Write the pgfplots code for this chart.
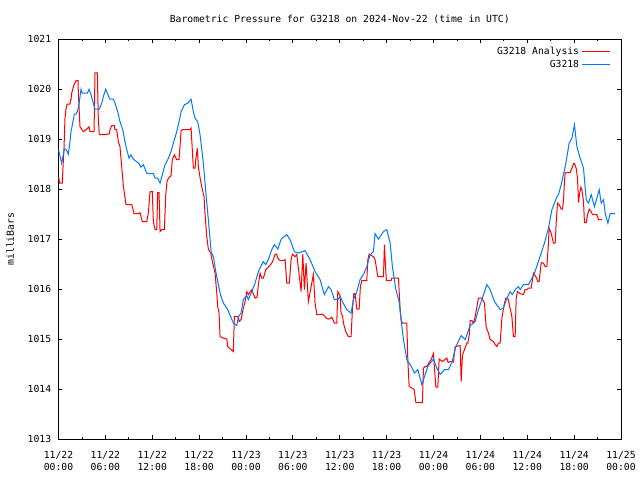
\documentclass[border=0pt]{standalone}
\usepackage{pgfplots}
\pgfplotsset{compat=1.18}
\usepackage{fontspec}
\setmainfont{DejaVu Sans Mono}
\newcommand{\gp}{\fontsize{7.3}{8.6}\selectfont}
\definecolor{gpred}{RGB}{255,0,0}
\definecolor{gpblue}{RGB}{0,120,255}
\begin{document}
\begin{tikzpicture}
\useasboundingbox (-43.875pt,-30.75pt) rectangle (436.125pt,329.25pt);
\begin{axis}[
  at={(0,0)}, anchor=south west,
  scale only axis, width=421.9pt, height=299.8pt,
  xmin=0, xmax=72, ymin=1013, ymax=1021,
  xtick={0,6,...,72},
  minor xtick={3,9,...,69},
  xticklabels={{11/22\\00:00},{11/22\\06:00},{11/22\\12:00},{11/22\\18:00},{11/23\\00:00},{11/23\\06:00},{11/23\\12:00},{11/23\\18:00},{11/24\\00:00},{11/24\\06:00},{11/24\\12:00},{11/24\\18:00},{11/25\\00:00}},
  ytick={1013,1014,...,1021},
  yticklabels={1013,1014,1015,1016,1017,1018,1019,1020,1021},
  xticklabel style={align=center, font=\gp, yshift=-6pt},
  yticklabel style={font=\gp, xshift=-2pt},
  major tick length=3pt, minor tick length=1.5pt,
  tick style={black, line width=0.6pt},
  axis line style={line width=0.75pt},
  ylabel={milliBars},
  ylabel style={font=\gp, at={(axis description cs:-0.086,0.5)}, anchor=center},
  title={Barometric Pressure for G3218 on 2024-Nov-22 (time in UTC)},
  title style={font=\gp, at={(axis description cs:0.5,1)}, anchor=center, yshift=9pt},
  legend plot pos=right,
  legend cell align=right,
  legend image code/.code={\draw[#1] (0pt,0pt) -- (21pt,0pt);},
  legend style={draw=none, fill=none, font=\gp, at={(1,1)}, anchor=north east, xshift=-4.5pt, yshift=-1.5pt, row sep=-1pt},
]
\addplot[gpred, line width=0.75pt] coordinates {
(0,1018.25)(0.15,1018.12)(0.49,1018.12)(0.58,1018.45)(0.70,1018.79)(0.83,1019.42)(0.96,1019.60)(1.09,1019.70)(1.47,1019.70)(1.54,1019.79)(1.60,1019.79)(1.69,1019.92)(1.98,1020.09)(2.24,1020.17)(2.50,1020.17)(2.54,1019.93)(2.75,1019.25)(3.18,1019.15)(3.61,1019.20)(3.91,1019.25)(4.03,1019.15)(4.55,1019.15)(4.67,1020.33)(4.97,1020.33)(5.10,1019.39)(5.22,1019.09)(5.95,1019.09)(6.50,1019.11)(6.59,1019.19)(6.81,1019.27)(7.14,1019.27)(7.23,1019.19)(7.45,1019.19)(7.66,1018.95)(7.87,1018.85)(8.30,1018.07)(8.64,1017.69)(9.37,1017.69)(9.45,1017.65)(9.67,1017.51)(10.22,1017.51)(10.44,1017.53)(10.56,1017.45)(10.73,1017.35)(11.29,1017.35)(11.50,1017.52)(11.72,1017.95)(12.01,1017.95)(12.14,1017.35)(12.36,1017.19)(12.57,1017.19)(12.70,1017.93)(12.87,1017.93)(13.00,1017.15)(13.21,1017.19)(13.55,1017.19)(13.73,1017.89)(13.89,1018.15)(14.06,1018.22)(14.40,1018.27)(14.57,1018.59)(14.83,1018.69)(15.13,1018.59)(15.43,1018.59)(15.69,1019.17)(15.85,1019.19)(16.84,1019.19)(16.97,1019.22)(17.26,1018.42)(17.48,1018.42)(17.57,1018.59)(17.77,1018.82)(17.90,1018.45)(18.16,1018.19)(18.41,1017.99)(18.63,1017.85)(18.76,1017.49)(18.98,1017.05)(19.18,1016.80)(19.49,1016.72)(19.69,1016.55)(20.04,1016.32)(20.26,1015.92)(20.38,1015.65)(20.55,1015.52)(20.68,1015.05)(21.10,1015.02)(21.54,1015.00)(21.66,1014.85)(22.09,1014.79)(22.38,1014.75)(22.51,1015.45)(22.73,1015.45)(23.02,1015.45)(23.11,1015.35)(23.37,1015.39)(23.66,1015.62)(23.88,1015.75)(24.10,1015.95)(24.30,1015.89)(24.74,1015.99)(25.16,1015.82)(25.42,1015.84)(25.58,1016.09)(25.80,1016.32)(26.02,1016.22)(26.22,1016.22)(26.53,1016.39)(26.86,1016.44)(27.30,1016.52)(27.50,1016.59)(27.72,1016.70)(27.94,1016.70)(28.07,1016.62)(28.36,1016.57)(28.78,1016.57)(29.00,1016.59)(29.22,1016.12)(29.55,1016.12)(29.77,1016.59)(29.94,1016.70)(30.28,1016.65)(30.50,1016.69)(31.05,1015.95)(31.27,1016.70)(31.47,1015.99)(31.69,1016.52)(31.98,1015.75)(32.62,1016.29)(32.84,1015.72)(33.06,1015.49)(33.48,1015.49)(33.78,1015.50)(34.12,1015.45)(34.34,1015.41)(34.55,1015.40)(34.76,1015.41)(34.98,1015.44)(35.31,1015.32)(35.62,1015.32)(35.75,1015.95)(36.04,1015.87)(36.17,1015.51)(36.34,1015.47)(36.52,1015.29)(36.77,1015.15)(37.11,1015.05)(37.45,1015.05)(37.62,1015.59)(37.80,1015.91)(37.96,1015.91)(38.18,1015.60)(38.48,1015.60)(38.64,1016.05)(38.82,1016.17)(39.46,1016.17)(39.59,1016.59)(39.76,1016.70)(40.31,1016.65)(40.52,1016.59)(40.87,1016.25)(41.59,1016.25)(41.72,1016.89)(41.81,1016.59)(41.97,1016.17)(42.57,1016.17)(42.66,1016.22)(43.51,1016.22)(43.73,1015.59)(43.85,1015.39)(44.02,1015.32)(44.58,1015.32)(44.71,1014.59)(44.88,1014.05)(45.13,1014.03)(45.52,1013.99)(45.74,1013.73)(46.58,1013.73)(46.71,1014.42)(46.93,1014.45)(47.15,1014.45)(47.35,1014.51)(47.70,1014.59)(47.99,1014.71)(48.12,1014.42)(48.30,1014.04)(48.55,1014.04)(48.72,1014.60)(49.14,1014.55)(49.71,1014.62)(49.87,1014.53)(50.13,1014.55)(50.55,1014.54)(50.77,1014.85)(51.41,1014.87)(51.54,1014.15)(51.70,1014.67)(51.96,1014.79)(52.27,1014.92)(52.39,1014.92)(52.60,1015.12)(52.69,1015.37)(52.91,1015.37)(53.11,1015.32)(53.33,1015.45)(53.75,1015.82)(54.19,1015.82)(54.52,1015.72)(54.74,1015.24)(55.03,1015.12)(55.25,1014.99)(55.67,1014.95)(55.89,1014.89)(56.11,1014.85)(56.31,1014.92)(56.53,1014.92)(56.75,1015.42)(57.08,1015.72)(57.26,1015.82)(57.52,1015.82)(58.03,1015.45)(58.23,1015.05)(58.45,1015.05)(58.58,1015.82)(58.75,1015.95)(59.09,1015.91)(59.51,1015.89)(59.73,1015.99)(59.95,1015.99)(60.15,1016.02)(60.50,1016.02)(60.79,1016.32)(61.10,1016.25)(61.36,1016.15)(61.52,1016.15)(61.78,1016.53)(62.07,1016.52)(62.29,1016.45)(62.51,1016.45)(62.71,1016.92)(62.80,1017.22)(63.06,1017.12)(63.35,1016.92)(63.57,1016.92)(63.70,1017.32)(63.87,1017.72)(64.09,1017.69)(64.34,1017.60)(64.51,1017.60)(64.64,1017.79)(64.76,1018.15)(64.85,1018.33)(65.49,1018.33)(65.71,1018.42)(65.92,1018.51)(66.04,1018.51)(66.26,1018.42)(66.43,1018.22)(66.56,1017.73)(66.68,1017.89)(66.86,1018.04)(66.99,1017.99)(67.20,1017.75)(67.32,1017.33)(67.54,1017.33)(67.71,1017.49)(67.93,1017.60)(68.18,1017.55)(68.35,1017.49)(68.91,1017.49)(69.12,1017.39)(69.55,1017.39)
};
\addlegendentry{G3218 Analysis}
\addplot[gpblue, line width=0.75pt] coordinates {
(0,1018.79)(0.15,1018.69)(0.41,1018.52)(0.74,1018.80)(0.92,1018.80)(1.13,1018.75)(1.25,1018.70)(1.47,1018.95)(1.60,1019.15)(1.90,1019.39)(2.02,1019.50)(2.20,1019.50)(2.41,1019.55)(2.62,1019.69)(2.88,1020.00)(3.05,1019.92)(3.69,1019.92)(3.91,1020.00)(4.12,1019.91)(4.46,1019.72)(4.67,1019.60)(5.22,1019.60)(5.53,1019.72)(5.74,1019.85)(6.04,1020.00)(6.30,1019.90)(6.59,1019.80)(7.02,1019.80)(7.23,1019.72)(7.58,1019.55)(7.87,1019.35)(8.22,1019.19)(8.64,1018.85)(9.03,1018.62)(9.28,1018.69)(9.58,1018.60)(10.01,1018.55)(10.31,1018.51)(10.56,1018.44)(10.86,1018.49)(11.29,1018.32)(11.72,1018.31)(12.14,1018.31)(12.36,1018.22)(12.70,1018.22)(13.00,1018.12)(13.29,1018.29)(13.64,1018.49)(13.98,1018.59)(14.40,1018.75)(14.83,1018.99)(15.13,1019.15)(15.43,1019.35)(15.69,1019.55)(16.11,1019.69)(16.54,1019.72)(16.97,1019.80)(17.26,1019.55)(17.48,1019.42)(17.82,1019.35)(18.12,1019.09)(18.54,1018.52)(18.85,1017.95)(19.18,1017.39)(19.53,1016.75)(19.82,1016.65)(20.13,1016.35)(20.68,1015.92)(21.10,1015.72)(21.66,1015.59)(22.38,1015.32)(22.82,1015.27)(23.02,1015.45)(23.37,1015.52)(23.66,1015.79)(24.10,1015.87)(24.30,1015.79)(24.74,1015.95)(25.16,1016.12)(25.58,1016.35)(26.22,1016.55)(26.53,1016.49)(26.86,1016.59)(27.30,1016.79)(27.63,1016.89)(28.07,1016.80)(28.49,1017.00)(29.22,1017.09)(29.64,1016.99)(30.19,1016.75)(30.70,1016.72)(31.56,1016.77)(32.20,1016.59)(32.84,1016.35)(33.48,1016.19)(34.03,1015.89)(34.55,1016.05)(34.89,1015.99)(35.31,1015.79)(35.75,1015.79)(36.04,1015.85)(36.47,1015.71)(36.90,1015.59)(37.45,1015.52)(37.75,1015.79)(38.18,1015.95)(38.60,1016.19)(39.03,1016.29)(39.46,1016.45)(39.89,1016.69)(40.31,1016.75)(40.52,1017.11)(40.95,1017.00)(41.59,1017.15)(42.02,1017.19)(42.45,1016.92)(42.74,1016.45)(43.18,1015.99)(43.60,1015.75)(43.85,1015.39)(44.15,1014.99)(44.58,1014.59)(45.13,1014.46)(45.56,1014.32)(45.99,1014.39)(46.50,1014.09)(46.84,1014.25)(47.27,1014.45)(47.99,1014.60)(48.42,1014.42)(48.85,1014.29)(49.40,1014.39)(49.91,1014.39)(50.35,1014.53)(50.86,1014.85)(51.54,1015.07)(52.05,1014.99)(52.69,1015.27)(53.33,1015.35)(53.75,1015.59)(54.10,1015.75)(54.83,1016.09)(55.25,1015.99)(55.80,1015.75)(56.53,1015.59)(56.95,1015.62)(57.39,1015.82)(57.81,1015.95)(58.07,1015.89)(58.45,1015.99)(58.87,1016.05)(59.09,1015.99)(59.51,1016.09)(60.15,1016.09)(60.50,1016.19)(60.92,1016.32)(61.36,1016.52)(61.78,1016.72)(62.20,1016.92)(62.71,1017.22)(63.15,1017.59)(63.79,1017.85)(64.00,1017.89)(64.43,1018.15)(64.94,1018.52)(65.36,1018.92)(65.71,1019.02)(66.04,1019.29)(66.35,1018.85)(66.77,1018.62)(67.20,1018.42)(67.54,1017.79)(67.84,1017.72)(68.18,1017.89)(68.60,1017.65)(69.21,1017.99)(69.46,1017.72)(69.76,1017.79)(69.97,1017.52)(70.32,1017.32)(70.61,1017.51)(71.25,1017.51)
};
\addlegendentry{G3218}
\end{axis}
\end{tikzpicture}
\end{document}
